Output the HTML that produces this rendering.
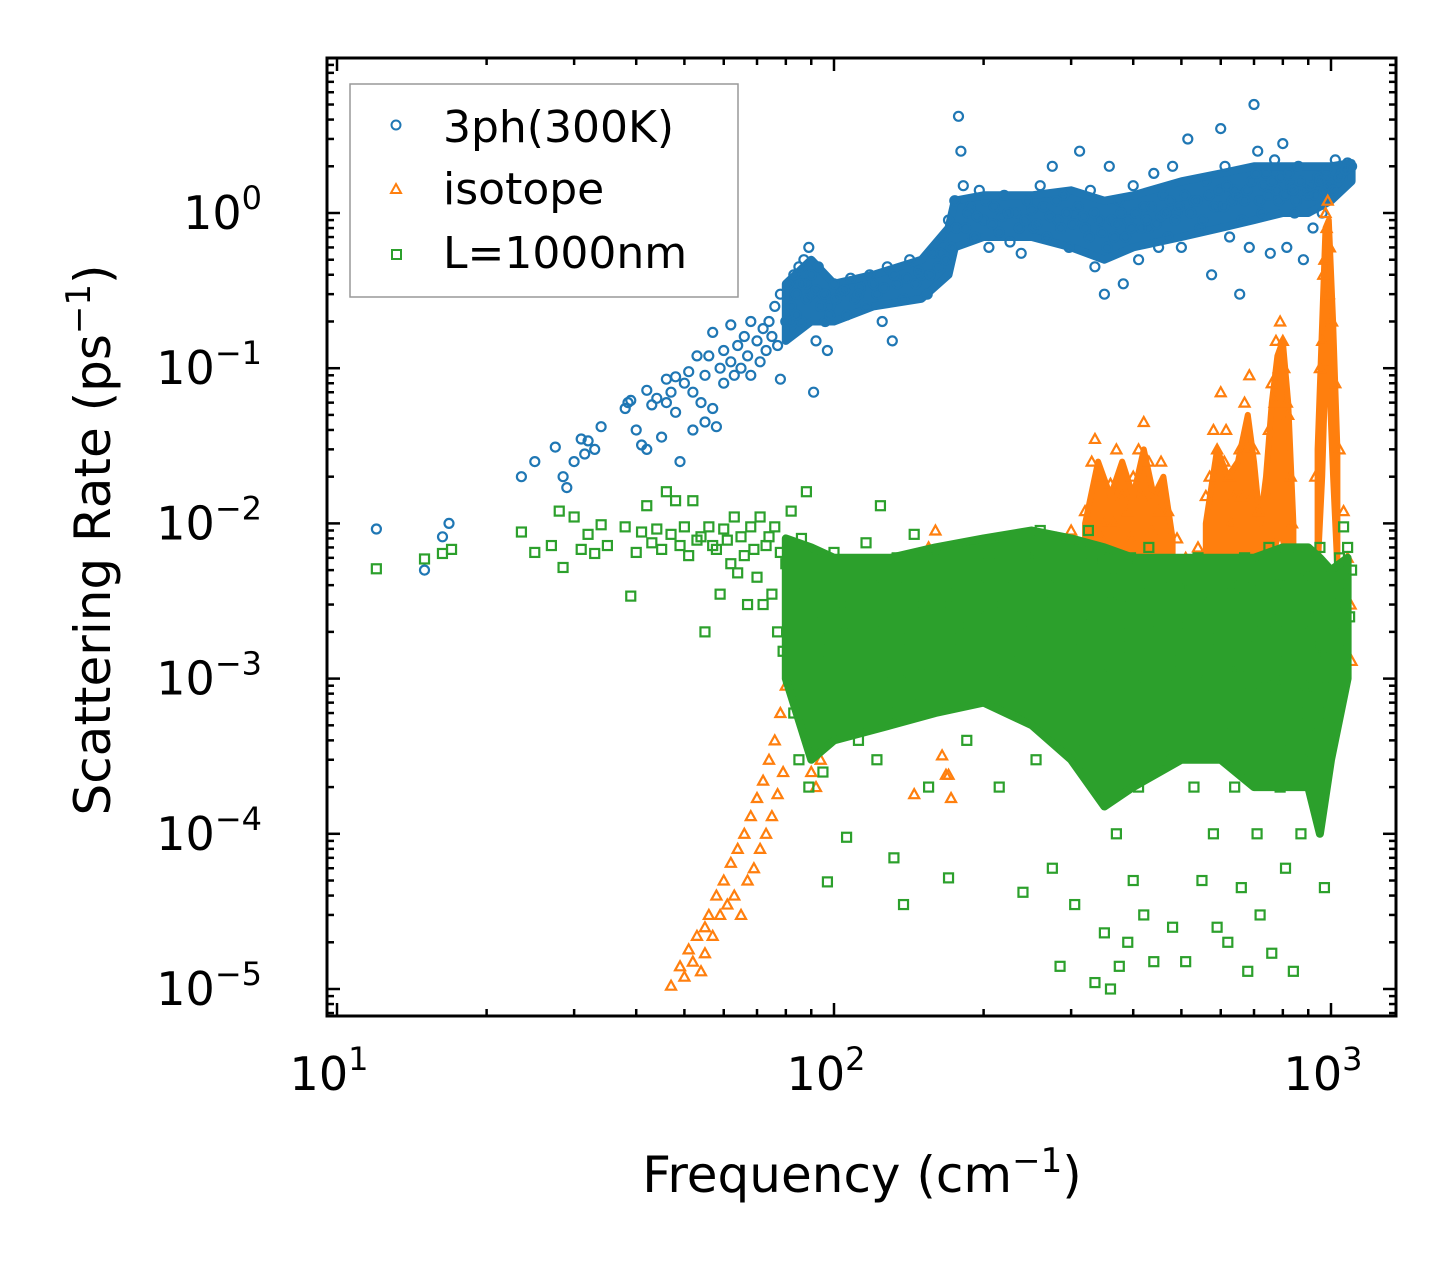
<!DOCTYPE html>
<html><head><meta charset="utf-8"><style>
html,body{margin:0;padding:0;background:#fff;}
svg{display:block;font-family:"DejaVu Sans","Liberation Sans",sans-serif;}
</style></head><body>
<svg id="chart" width="1455" height="1265" viewBox="0 0 1455 1265" xmlns="http://www.w3.org/2000/svg">
<rect width="1455" height="1265" fill="#fff"/>
<g id="marks"></g>
<g id="axes"></g>
<text x="862" y="1192" font-size="50" text-anchor="middle">Frequency (cm<tspan dy="-20" font-size="34">−1</tspan><tspan dy="20">)</tspan></text>
<text transform="translate(110,540) rotate(-90)" font-size="50" text-anchor="middle">Scattering Rate (ps<tspan dy="-20" font-size="34">−1</tspan><tspan dy="20">)</tspan></text>
<g>
<rect x="350" y="84" width="388" height="213" fill="#fff" stroke="#999" stroke-width="1.5"/>
<circle cx="396" cy="125" r="4.5" fill="none" stroke="#1f77b4" stroke-width="2"/>
<text x="443" y="142" font-size="44">3ph(300K)</text>
<path d="M396,184 L401,193 L391,193 Z" fill="none" stroke="#ff7f0e" stroke-width="2"/>
<text x="443" y="204" font-size="44">isotope</text>
<rect x="392" y="250" width="9" height="9" fill="none" stroke="#2ca02c" stroke-width="2"/>
<text x="443" y="268" font-size="44">L=1000nm</text>
</g>
</svg>
<script>
const xTickExps=[1,2,3];
const yTickExps=[0,-1,-2,-3,-4,-5];
// dense-cloud envelopes (frequency, lower rate, upper rate)
const blueBandFreq=[80,90,100,120,150,170,175,200,250,300,350,400,500,600,700,800,900,1000,1100];
const blueBandLow=[0.15,0.2,0.2,0.25,0.28,0.4,0.6,0.7,0.7,0.6,0.5,0.6,0.7,0.8,0.9,1.0,1.0,1.2,1.6];
const blueBandHigh=[0.35,0.5,0.35,0.4,0.5,0.8,1.2,1.3,1.3,1.4,1.2,1.3,1.6,1.8,2.0,2.0,2.0,2.0,2.1];
const orangeBand1Freq=[320,340,360,380,400,420,440,460,480];
const orangeBand1Low=[4e-3,5e-3,5e-3,5e-3,6e-3,6e-3,5e-3,5e-3,4e-3];
const orangeBand1High=[1e-2,2.5e-2,1.5e-2,2.5e-2,1.5e-2,3e-2,1.5e-2,2e-2,8e-3];
const orangeBand2Freq=[560,590,620,650,680,700,720,740,760,780,800,820,840];
const orangeBand2Low=[4e-3,5e-3,5e-3,5e-3,6e-3,5e-3,4e-3,4e-3,6e-3,8e-3,8e-3,5e-3,3e-3];
const orangeBand2High=[1e-2,3e-2,2e-2,2.5e-2,5e-2,2.5e-2,1e-2,2e-2,6e-2,1.2e-1,1.5e-1,6e-2,1e-2];
const orangeBand3Freq=[940,960,975,990,1010,1030];
const orangeBand3Low=[5e-3,2e-2,0.1,0.1,0.02,5e-3];
const orangeBand3High=[3e-2,0.2,0.8,0.9,0.2,0.03];
const greenBandFreq=[80,90,100,130,160,200,250,300,350,400,500,600,700,800,900,950,1000,1080];
const greenBandLow=[1e-3,3e-4,4e-4,5e-4,6e-4,7e-4,5e-4,3e-4,1.5e-4,2e-4,3e-4,3e-4,2e-4,2e-4,2e-4,1e-4,3e-4,1e-3];
const greenBandHigh=[8e-3,7e-3,6e-3,6e-3,7e-3,8e-3,9e-3,8e-3,7e-3,6e-3,6e-3,6e-3,6e-3,7e-3,7e-3,6e-3,5e-3,6e-3];

const blueData=[[12,0.0092],[15,0.005],[16.3,0.0082],[16.8,0.01],[23.5,0.02],[25,0.025],[27.5,0.031],[28.5,0.02],[29,0.017],[30,0.025],[31,0.035],[31.5,0.028],[32,0.034],[33,0.03],[34,0.042],[38,0.055],[38.5,0.06],[39,0.062],[40,0.04],[41,0.032],[42,0.03],[42,0.072],[43,0.058],[44,0.064],[45,0.036],[46,0.06],[46,0.085],[47,0.07],[48,0.052],[48,0.088],[49,0.025],[50,0.08],[51,0.095],[52,0.04],[52,0.07],[53,0.12],[54,0.06],[55,0.09],[55,0.045],[56,0.12],[57,0.055],[57,0.17],[58,0.042],[59,0.1],[60,0.08],[60,0.13],[62,0.11],[62,0.19],[63,0.09],[64,0.14],[65,0.1],[66,0.16],[67,0.12],[68,0.09],[68,0.2],[70,0.15],[71,0.11],[72,0.18],[73,0.13],[74,0.2],[75,0.16],[76,0.25],[77,0.14],[78,0.085],[78,0.3],[80,0.2],[81,0.35],[82,0.25],[83,0.4],[84,0.3],[85,0.45],[86,0.2],[87,0.5],[88,0.35],[89,0.6],[90,0.3],[91,0.07],[92,0.15],[93,0.45],[95,0.3],[96,0.2],[97,0.13],[98,0.25],[100,0.35],[103,0.3],[106,0.22],[108,0.38],[110,0.28],[113,0.33],[116,0.25],[118,0.4],[122,0.3],[125,0.2],[128,0.45],[131,0.15],[134,0.35],[138,0.28],[142,0.5],[146,0.35],[150,0.4],[154,0.3],[158,0.55],[162,0.45],[166,0.7],[170,0.9],[175,1.2],[178,4.2],[180,2.5],[182,1.5],[184,0.8],[188,1.1],[192,0.7],[196,1.4],[200,0.9],[205,0.6],[210,1.1],[215,0.75],[220,1.3],[226,0.65],[232,1.0],[238,0.55],[245,1.2],[252,0.8],[260,1.5],[268,0.7],[275,2.0],[282,0.9],[290,1.3],[297,0.6],[305,1.0],[312,2.5],[320,0.8],[328,1.4],[335,0.45],[342,0.9],[350,0.3],[358,2.0],[366,0.7],[374,1.2],[382,0.35],[390,0.9],[400,1.5],[410,0.5],[420,1.1],[430,0.8],[440,1.8],[450,0.6],[460,1.3],[470,0.7],[480,2.0],[490,1.0],[500,0.6],[515,3.0],[530,1.2],[545,0.8],[560,1.6],[575,0.4],[590,1.1],[600,3.5],[612,2.0],[625,0.7],[640,1.4],[655,0.3],[670,1.2],[685,0.6],[700,5.0],[712,2.5],[725,1.0],[740,1.8],[755,0.55],[770,2.2],[785,1.2],[800,2.8],[815,0.6],[830,1.5],[845,1.0],[860,2.0],[880,0.5],[900,1.3],[920,0.8],[940,1.7],[960,1.0],[980,1.9],[1000,1.6],[1020,2.2],[1050,1.8],[1080,2.1],[1100,2.0],
[172,0.6],[176,0.8],[186,1.0],[194,0.95],[202,1.2],[208,0.85],[218,0.95],[224,1.0],[236,0.8],[242,0.9],[250,1.05],[256,0.85],[264,1.1],[272,0.95],[280,1.2],[286,0.8],[294,1.0],[302,0.85],[310,1.1],[318,0.95],[326,0.7],[334,1.0],[346,0.75],[354,0.6],[362,0.9],[370,0.85],[378,1.0],[386,0.7],[396,0.8],[405,1.0],[415,0.8],[425,0.9],[435,1.1],[445,0.85],[455,0.95],[465,1.0],[475,1.2],[485,0.9],[495,1.1],[508,1.3],[522,1.0],[538,1.2],[552,0.9],[568,1.3],[582,1.1],[596,1.4],[608,1.1],[618,1.5],[632,1.2],[648,1.3],[662,0.9],[678,1.4],[692,1.6],[706,1.8],[718,1.2],[732,1.5],[748,1.3],[762,1.6],[778,1.4],[792,1.7],[808,1.3],[822,1.8],[838,1.4],[852,1.2],[868,1.6],[890,1.4],[910,1.5],[930,1.3],[950,1.6],[970,1.4],[990,1.5],[1010,1.4],[1040,1.7],[1070,1.9],
[101,0.28],[105,0.32],[112,0.3],[120,0.35],[126,0.33],[132,0.4],[140,0.38],[148,0.42],[156,0.4],[164,0.55],[168,0.5],[82,0.2],[84,0.22],[86,0.35],[88,0.28],[90,0.4],[92,0.32],[94,0.25],[96,0.3],[98,0.22]];
const orangeData=[[47,1.05e-5],[49,1.4e-5],[50,1.2e-5],[51,1.8e-5],[52,1.5e-5],[53,2.2e-5],[54,1.3e-5],[55,2.5e-5],[55,1.7e-5],[56,3e-5],[57,2.2e-5],[58,4e-5],[59,3e-5],[60,5e-5],[61,3.5e-5],[62,6.5e-5],[63,4e-5],[64,8e-5],[65,3e-5],[66,1e-4],[67,5e-5],[68,1.3e-4],[69,6e-5],[70,1.7e-4],[71,8e-5],[72,2.2e-4],[73,1e-4],[74,3e-4],[75,1.3e-4],[76,4e-4],[77,1.8e-4],[78,6e-4],[79,2.5e-4],[80,9e-4],[81,1.5e-3],[82,3e-3],[84,5e-3],[86,4e-3],[88,2e-3],[90,2.5e-4],[92,2e-4],[94,3e-4],[96,4.5e-4],[98,5e-4],[100,6e-4],[102,8e-4],[104,1e-3],[106,7e-4],[108,1.2e-3],[112,1.5e-3],[118,2e-3],[125,3e-3],[135,4e-3],[145,5e-3],[155,7e-3],[160,9e-3],[165,5e-3],[170,2.4e-4],[172,1.7e-4],[180,3e-3],[190,2e-3],[200,3e-3],[220,4e-3],[240,5e-3],[260,6e-3],[280,8e-3],[300,9e-3],[320,1.2e-2],[330,2.5e-2],[335,3.5e-2],[340,2e-2],[350,1e-2],[360,1.8e-2],[370,3e-2],[380,1.5e-2],[390,1.2e-2],[400,2e-2],[410,3e-2],[420,4.5e-2],[430,2.5e-2],[440,1.5e-2],[455,2.5e-2],[470,1.2e-2],[490,8e-3],[510,6e-3],[540,7e-3],[560,1.5e-2],[580,4e-2],[600,7e-2],[615,4e-2],[625,2e-2],[640,1.5e-2],[655,3e-2],[670,6e-2],[685,9e-2],[700,3e-2],[715,1.2e-2],[730,5e-3],[745,1.5e-2],[760,8e-2],[775,1.5e-1],[790,2e-1],[805,1e-1],[820,5e-2],[835,1e-2],[850,3e-3],[870,1.2e-3],[890,8e-4],[910,3e-3],[930,2e-2],[950,1e-1],[965,4e-1],[975,1.0],[985,1.2],[995,6e-1],[1005,2e-1],[1020,8e-2],[1040,3e-2],[1060,1.2e-2],[1080,6e-3],[1095,3e-3],[1100,1.3e-3],
[120,1e-3],[130,1.5e-3],[140,2e-3],[150,3e-3],[200,1e-3],[250,2e-3],[145,1.8e-4],[165,3.2e-4],[168,2.4e-4],[345,8e-3],[365,1e-2],[395,8e-3],[415,1.5e-2],[435,9e-3],[450,1.2e-2],[570,2e-2],[590,3e-2],[610,2.5e-2],[630,1e-2],[660,1.5e-2],[680,3e-2],[695,1.5e-2],[750,4e-2],[770,6e-2],[785,1e-1],[800,1.5e-1],[815,6e-2],[830,2e-2],[960,1.5e-1],[970,5e-1],[980,8e-1],[990,3e-1]];
const greenData=[[12,0.0051],[15,0.0059],[16.3,0.0064],[17,0.0068],[23.5,0.0088],[25,0.0065],[27,0.0072],[28,0.012],[28.5,0.0052],[30,0.011],[31,0.0068],[32,0.0085],[33,0.0064],[34,0.0098],[35,0.0072],[38,0.0095],[39,0.0034],[40,0.0065],[41,0.0088],[42,0.013],[43,0.0075],[44,0.0092],[45,0.0068],[46,0.016],[47,0.0085],[48,0.014],[49,0.0072],[50,0.0095],[51,0.0062],[52,0.014],[53,0.0078],[54,0.0082],[55,0.002],[56,0.0095],[57,0.0072],[58,0.0068],[59,0.0035],[60,0.0092],[61,0.0078],[62,0.0055],[63,0.011],[64,0.0048],[65,0.0082],[66,0.0062],[67,0.003],[68,0.0095],[69,0.0068],[70,0.0045],[71,0.011],[72,0.003],[73,0.0072],[74,0.0082],[75,0.0035],[76,0.0095],[77,0.002],[78,0.0065],[79,0.0015],[80,0.0055],[81,0.001],[82,0.012],[83,0.0006],[84,0.004],[85,0.0003],[86,0.008],[87,0.0005],[88,0.016],[89,0.0002],[90,0.006],[91,0.0009],[92,0.0035],[93,0.0015],[94,0.0026],[95,0.00025],[96,0.0045],[97,4.9e-5],[98,0.0018],[100,0.0065],[102,0.0008],[104,0.003],[106,9.5e-5],[108,0.0055],[110,0.0015],[112,0.0004],[114,0.0025],[116,0.0075],[118,0.0012],[120,0.0045],[122,0.0003],[124,0.013],[126,0.002],[128,0.0006],[130,0.0035],[132,7e-5],[134,0.006],[136,0.0011],[138,3.5e-5],[140,0.0045],[142,0.0018],[145,0.0085],[148,0.0007],[150,0.003],[155,0.0002],[160,0.006],[165,0.0012],[170,5.2e-5],[175,0.004],[180,0.0018],[185,0.0004],[190,0.007],[195,0.0025],[200,0.0009],[205,0.0055],[210,0.003],[215,0.0002],[220,0.008],[225,0.0015],[230,0.0045],[235,0.0006],[240,4.2e-5],[245,0.006],[250,0.002],[255,0.0003],[260,0.009],[265,0.0035],[270,0.0012],[275,6e-5],[280,0.0055],[285,1.4e-5],[290,0.0025],[295,0.0008],[300,0.007],[305,3.5e-5],[310,0.0015],[315,0.0045],[320,0.0004],[325,0.009],[330,0.0025],[335,1.1e-5],[340,0.0002],[345,0.006],[350,2.3e-5],[355,0.0008],[360,1e-5],[365,0.005],[370,0.0001],[375,1.4e-5],[380,0.003],[385,0.0004],[390,2e-5],[395,0.006],[400,5e-5],[405,0.0012],[410,0.0002],[415,0.004],[420,3e-5],[425,0.0006],[430,0.007],[440,1.5e-5],[450,0.002],[460,0.0003],[470,0.0055],[480,2.5e-5],[490,0.0009],[500,0.004],[510,1.5e-5],[520,0.0015],[530,0.0002],[540,0.006],[550,5e-5],[560,0.001],[570,0.0035],[580,0.0001],[590,2.5e-5],[600,0.0055],[610,0.0005],[620,2e-5],[630,0.004],[640,0.0002],[650,0.0012],[660,4.5e-5],[670,0.006],[680,1.3e-5],[690,0.0008],[700,0.0045],[710,0.0001],[720,3e-5],[730,0.002],[740,0.0005],[750,0.007],[760,1.7e-5],[770,0.0009],[780,0.004],[790,0.0002],[800,0.001],[810,6e-5],[820,0.006],[830,0.0004],[840,1.3e-5],[850,0.003],[860,0.0012],[870,0.0001],[880,0.005],[890,0.0008],[900,0.0025],[910,0.0003],[920,0.004],[930,0.0015],[940,0.0005],[950,0.007],[960,0.0002],[970,4.5e-5],[980,0.003],[990,0.0006],[1000,0.0012],[1010,0.0045],[1020,0.002],[1040,0.006],[1060,0.0095],[1080,0.007],[1100,0.005],
[105,0.002],[115,0.004],[125,0.0011],[135,0.0028],[150,0.0012],[170,0.003],[185,0.0022],[195,0.0045],[210,0.0011],[225,0.0035],[240,0.0025],[255,0.0065],[270,0.0045],[285,0.0033],[300,0.0018],[315,0.0022],[330,0.0055],[345,0.0012],[360,0.0035],[375,0.0016],[390,0.0022],[405,0.0055],[420,0.0009],[435,0.0025],[455,0.0045],[475,0.0013],[495,0.0022],[515,0.0038],[535,0.0011],[555,0.0028],[575,0.0008],[595,0.0018],[615,0.0035],[635,0.0011],[655,0.0045],[675,0.0016],[695,0.0025],[715,0.0038],[735,0.0009],[755,0.0028],[775,0.002],[795,0.0045],[815,0.0015],[835,0.0025],[855,0.0006],[875,0.002],[895,0.0045],[915,0.0009],[935,0.0028],[955,0.0016],[975,0.0009],[995,0.0035],[1030,0.003],[1050,0.0015],[1070,0.004],[1090,0.0025]];

const NS='http://www.w3.org/2000/svg';
const L=327,R=1396,T=58,B=1016;
const XDEC=497, X1=337;
const YDEC=155.2, Y0=213;
function xs(v){return X1+(Math.log10(v)-1)*XDEC;}
function ys(v){return Y0-Math.log10(v)*YDEC;}
function mk(tag,attrs,parent){const e=document.createElementNS(NS,tag);for(const k in attrs)e.setAttribute(k,attrs[k]);parent.appendChild(e);return e;}
function bandPath(f,lo,hi){let d='';f.forEach((v,i)=>{d+=(i?'L':'M')+xs(v).toFixed(1)+','+ys(hi[i]).toFixed(1);});
for(let i=f.length-1;i>=0;i--)d+='L'+xs(f[i]).toFixed(1)+','+ys(lo[i]).toFixed(1);return d+'Z';}
const marks=document.getElementById('marks');
const axes=document.getElementById('axes');

const gb=mk('g',{},marks);


const bb=mk('path',{d:bandPath(blueBandFreq,blueBandLow,blueBandHigh),fill:'#1f77b4',stroke:'#1f77b4','stroke-width':8,'stroke-linejoin':'round'},gb);


blueData.forEach(d=>{const c=mk('circle',{cx:xs(d[0]).toFixed(1),cy:ys(d[1]).toFixed(1),r:4.5,fill:'none',stroke:'#1f77b4','stroke-width':2.2},gb);

});

const go=mk('g',{},marks);


[[orangeBand1Freq,orangeBand1Low,orangeBand1High],[orangeBand2Freq,orangeBand2Low,orangeBand2High],[orangeBand3Freq,orangeBand3Low,orangeBand3High]].forEach(b=>{
const ob=mk('path',{d:bandPath(b[0],b[1],b[2]),fill:'#ff7f0e',stroke:'#ff7f0e','stroke-width':6,'stroke-linejoin':'round'},go);

});
orangeData.forEach(d=>{const x=xs(d[0]),y=ys(d[1]);const p=mk('path',{d:`M${x},${y-5} L${x+5},${y+4} L${x-5},${y+4} Z`,fill:'none',stroke:'#ff7f0e','stroke-width':2.2},go);

});

const gg=mk('g',{},marks);


const gbd=mk('path',{d:bandPath(greenBandFreq,greenBandLow,greenBandHigh),fill:'#2ca02c',stroke:'#2ca02c','stroke-width':8,'stroke-linejoin':'round'},gg);


greenData.forEach(d=>{const x=xs(d[0]),y=ys(d[1]);const s=mk('rect',{x:x-4.5,y:y-4.5,width:9,height:9,fill:'none',stroke:'#2ca02c','stroke-width':2.2},gg);

});

const fr=mk('rect',{x:L,y:T,width:R-L,height:B-T,fill:'none',stroke:'#000','stroke-width':3},axes);


for(let e=0;e<=3;e++){for(let m=1;m<=9;m++){const v=m*Math.pow(10,e);const x=xs(v);if(x<L+1||x>R-1)continue;const len=m===1?13:7;
mk('line',{x1:x,y1:B,x2:x,y2:B-len,stroke:'#000','stroke-width':2.5},axes);
mk('line',{x1:x,y1:T,x2:x,y2:T+len,stroke:'#000','stroke-width':2.5},axes);}}
xTickExps.forEach(e=>{const t=mk('text',{x:xs(Math.pow(10,e))-8,y:1090,'font-size':46,'text-anchor':'middle'},axes);t.textContent='10';


const s=mk('tspan',{dy:-20,'font-size':32},t);s.textContent=String(e);});
for(let e=-6;e<=1;e++){for(let m=1;m<=9;m++){const v=m*Math.pow(10,e);const y=ys(v);if(y<T+1||y>B-1)continue;const len=m===1?13:7;
mk('line',{x1:L,y1:y,x2:L+len,y2:y,stroke:'#000','stroke-width':2.5},axes);
mk('line',{x1:R,y1:y,x2:R-len,y2:y,stroke:'#000','stroke-width':2.5},axes);}}
yTickExps.forEach(e=>{const y=ys(Math.pow(10,e));const t=mk('text',{x:262,y:y+16,'font-size':46,'text-anchor':'end'},axes);t.textContent='10';


const s=mk('tspan',{dy:-20,'font-size':32},t);s.textContent=e===0?'0':'−'+(-e);});
</script>
</body></html>
